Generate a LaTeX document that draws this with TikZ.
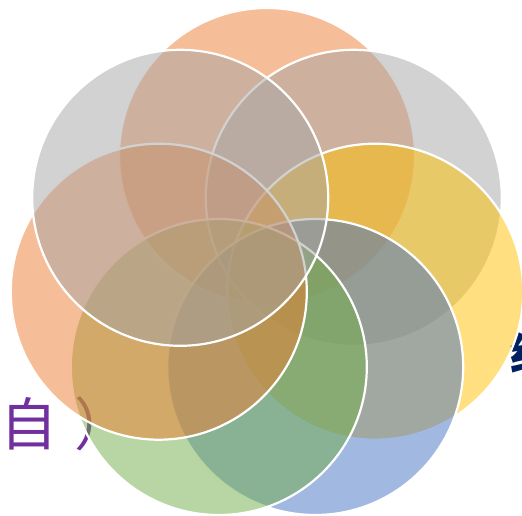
\documentclass[tikz,border=0pt]{standalone}
\usepackage{fontspec}
\newfontfamily\cjk{Noto Sans CJK SC}
\definecolor{accorange}{HTML}{ED7D31}
\definecolor{accgray}{HTML}{A5A5A5}
\definecolor{accyellow}{HTML}{FFC000}
\definecolor{accblue}{HTML}{4472C4}
\definecolor{accgreen}{HTML}{70AD47}
\definecolor{txtpurple}{HTML}{7030A0}
\definecolor{txtnavy}{HTML}{002060}
\begin{document}
\begin{tikzpicture}[x=1pt,y=-1pt,
  venn/.style={circle,minimum size=296pt,inner sep=0pt,outer sep=0pt,
    draw=white,line width=2.2pt,fill opacity=0.5,draw opacity=1},
  lbl/.style={inner sep=0pt,outer sep=0pt,font=\cjk}]
\useasboundingbox (0,0) rectangle (522,516);
\clip (0,0) rectangle (522,516);
% texts beneath the circles
\node[lbl,anchor=base west,text=txtpurple,font=\cjk\fontsize{57}{60}\selectfont] (t1) at (1,445) {自\kern17pt）};
\node[lbl,anchor=base west,text=txtnavy,font=\cjk\bfseries\fontsize{44}{48}\selectfont] (t2) at (510,370) {经};
% circles, clockwise from the top
\node[venn,fill=accorange] (c1) at (267.0,156.0) {};
\node[venn,fill=accgray]   (c2) at (353.8,197.8) {};
\node[venn,fill=accyellow] (c3) at (375.2,291.7) {};
\node[venn,fill=accblue]   (c4) at (315.2,367.0) {};
\node[venn,fill=accgreen]  (c5) at (218.8,367.0) {};
\node[venn,fill=accorange] (c6) at (158.8,291.7) {};
\node[venn,fill=accgray]   (c7) at (180.2,197.8) {};
\end{tikzpicture}
\end{document}
